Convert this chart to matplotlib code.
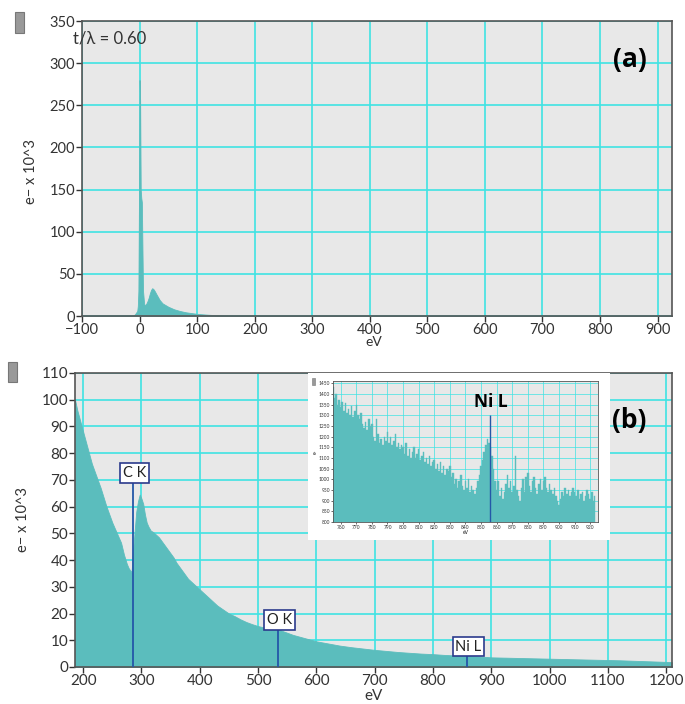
import numpy as np
import matplotlib
matplotlib.use("Agg")
import matplotlib.pyplot as plt
from matplotlib.patches import Rectangle

plt.rcParams['font.family'] = ['Lato', 'DejaVu Sans']

# ---- panel (a): low-loss spectrum ----
low_ev = [-100, -12, -8, -4, -3, -2, -1, 0, 1, 2, 3, 4, 5, 6, 8, 10, 12, 14, 16, 18, 20, 22, 24,
          26, 30, 35, 40, 45, 50, 60, 70, 80, 90, 100, 110, 120, 130, 140, 150, 160, 170, 925]
low_cnt = [0, 0, 2, 6, 12, 30, 140, 280, 256, 150, 140, 135, 80, 30, 14, 13, 15, 18, 22, 27, 31, 33, 32,
           30, 25, 19, 15, 13, 11, 8, 6, 4.5, 3.5, 2.6, 2, 1.5, 1.1, 0.8, 0.5, 0.3, 0, 0]

# ---- panel (b): core-loss spectrum ----
core_ev = [186, 190, 195, 200, 205, 210, 215, 220, 225, 230, 235, 240, 245, 250, 255, 260, 265,
           270, 275, 278, 281, 283, 285, 288, 291, 294, 297, 300, 303, 306, 309, 312, 316, 320,
           325, 330, 335, 340, 345, 350, 355, 360, 365, 370, 375, 380, 390, 400, 410, 420, 430,
           440, 450, 460, 470, 480, 490, 500, 510, 520, 530, 535, 540, 550, 560, 570, 580, 590,
           600, 620, 640, 660, 680, 700, 720, 740, 760, 780, 800, 820, 840, 860, 880, 900, 920,
           940, 960, 980, 1000, 1020, 1040, 1060, 1080, 1100, 1120, 1140, 1160, 1180, 1200, 1210]
core_cnt = [100, 96, 92, 88, 84, 80, 76, 73, 70, 67, 63.5, 60, 57, 54, 51.5, 49, 46.5,
            42, 38.5, 37, 36, 35.5, 42, 50, 58, 62, 64.5, 63, 61, 57, 54, 52.5, 51, 50.5,
            49.5, 48.5, 47, 45.5, 44, 42.5, 41, 39, 37.5, 36, 34.5, 33, 31, 29, 27, 25, 23,
            21.5, 20, 19, 17.8, 16.8, 16, 15.3, 14.8, 14.3, 14, 14.2, 13.6, 12.8, 12, 11.4, 10.8, 10.2,
            9.6, 8.8, 8, 7.4, 6.9, 6.4, 6, 5.6, 5.3, 5, 4.8, 4.5, 4.3, 4.1, 3.9, 3.6, 3.5,
            3.4, 3.3, 3.2, 3.1, 3.0, 2.9, 2.8, 2.7, 2.6, 2.5, 2.35, 2.2, 2.05, 1.9, 1.8]

edge_names = ['C K', 'O K', 'Ni L']
edge_ev = [285, 534, 858]
edge_top = [70, 15, 4.9]

# ---- inset: Ni L edge region (1 eV channels) ----
inset_ev = list(range(755, 924))
inset_cnt = [1430, 1380, 1400, 1350, 1370,
             1340, 1360, 1320, 1355, 1310, 1330, 1300, 1345, 1290, 1320,
             1350, 1300, 1280, 1310, 1260, 1240, 1270, 1230, 1280, 1250,
             1260, 1200, 1180, 1280, 1210, 1170, 1190, 1160, 1200, 1180,
             1220, 1170, 1200, 1160, 1180, 1210, 1150, 1170, 1140, 1160,
             1150, 1120, 1170, 1110, 1140, 1100, 1130, 1150, 1100, 1120,
             1140, 1090, 1110, 1130, 1080, 1100, 1070, 1110, 1060, 1080,
             1090, 1050, 1070, 1040, 1080, 1030, 1060, 1020, 1050, 1040,
             1060, 1010, 1030, 980, 1000, 960, 990, 1020, 970, 950,
             990, 960, 1000, 940, 970, 950, 930, 960, 990, 1020,
             1060, 1090, 1130, 1160, 1190, 1170, 1150, 1110, 1050, 990,
             950, 990, 920, 960, 910, 940, 980, 1020, 960, 990,
             940, 970, 1110, 950, 920, 900, 960, 1000, 940, 1010,
             1030, 970, 940, 990, 1010, 960, 930, 980, 1000, 950,
             990, 1010, 960, 940, 980, 950, 930, 960, 920, 900,
             880, 910, 940, 920, 960, 930, 950, 920, 940, 960,
             940, 920, 950, 910, 930, 940, 900, 920, 950, 930,
             910, 940, 900, 920]

TEAL = '#5BBDBD'
GRID = '#3FE3E3'
BG = '#E8E8E8'
LINE = '#2457A8'


def style(ax, fs):
    ax.set_facecolor(BG)
    ax.grid(True, color=GRID, lw=1.2)
    ax.set_axisbelow(True)
    for s in ax.spines.values():
        s.set_color('#555555')
        s.set_linewidth(1.2)
    ax.tick_params(labelsize=fs, colors='#333333', length=4, width=1, pad=1)


fig = plt.figure(figsize=(6.85, 7.04), dpi=100)

# panel (a)
ax1 = fig.add_axes([0.1197, 0.5511, 0.8613, 0.419])
style(ax1, 10.5)
ax1.fill_between(low_ev, low_cnt, 0, color=TEAL, lw=0.6, edgecolor=TEAL)
ax1.set_xlim(-100, 925)
ax1.set_ylim(0, 350)
ax1.set_xticks(np.arange(-100, 901, 100))
ax1.set_yticks(np.arange(0, 351, 50))
ax1.text(0.957, 0.87, '(a)', transform=ax1.transAxes, fontsize=19, fontweight='bold',
         ha='right', va='center', family=['Open Sans', 'DejaVu Sans'])
fig.text(0.106, 0.945, 't/\u03bb = 0.60', fontsize=12, color='#333333', va='center')
fig.text(0.545, 0.514, 'eV', fontsize=10, ha='center', va='center', color='#333333')
fig.text(0.045, 0.757, 'e\u2212 x 10^3', fontsize=10.5, rotation=90, ha='center', va='center',
         color='#333333')
fig.patches.append(Rectangle((15 / 685, 1 - 33 / 704), 9 / 685, 21 / 704, transform=fig.transFigure,
                             facecolor='#999999', edgecolor='#777777', lw=0.8))

# panel (b)
ax2 = fig.add_axes([0.1095, 0.0526, 0.8715, 0.4176])
style(ax2, 11)
ax2.fill_between(core_ev, core_cnt, 0, color=TEAL, lw=0.6, edgecolor=TEAL)
ax2.set_xlim(186, 1210)
ax2.set_ylim(0, 110)
ax2.set_xticks(np.arange(200, 1201, 100))
ax2.set_yticks(np.arange(0, 111, 10))
for name, e, top in zip(edge_names, edge_ev, edge_top):
    ax2.vlines(e, 0, top, color=LINE, lw=1.3, zorder=3)
    ax2.text(e + 3, top, name, fontsize=10.5, ha='center', va='bottom', color='#222222', zorder=4,
             bbox=dict(boxstyle='square,pad=0.18', fc='white', ec='#2B3A8C', lw=1.2))
ax2.text(0.957, 0.84, '(b)', transform=ax2.transAxes, fontsize=19, fontweight='bold',
         ha='right', va='center', family=['Open Sans', 'DejaVu Sans'])
fig.text(0.545, 0.012, 'eV', fontsize=11, ha='center', va='center', color='#333333')
fig.text(0.034, 0.262, 'e\u2212 x 10^3', fontsize=10.5, rotation=90, ha='center', va='center',
         color='#333333')
fig.patches.append(Rectangle((8 / 685, 1 - 382 / 704), 9 / 685, 20 / 704, transform=fig.transFigure,
                             facecolor='#999999', edgecolor='#777777', lw=0.8))

# inset
box = fig.add_axes([0.4496, 0.233, 0.4409, 0.2372])
box.set_facecolor('white')
box.set_xticks([])
box.set_yticks([])
for s in box.spines.values():
    s.set_visible(False)
ax3 = fig.add_axes([0.486, 0.2585, 0.387, 0.2003])
style(ax3, 3.5)
ax3.grid(True, color=GRID, lw=0.5)
for s in ax3.spines.values():
    s.set_linewidth(0.6)
ax3.tick_params(length=1.5, width=0.5, pad=0.5)
ax3.fill_between(inset_ev, inset_cnt, 800, step='mid', color=TEAL, lw=0.3, edgecolor=TEAL)
ax3.set_xlim(755, 925)
ax3.set_ylim(800, 1460)
ax3.set_xticks(np.arange(760, 921, 10))
ax3.set_yticks(np.arange(800, 1451, 50))
ax3.vlines(856, 800, 1300, color=LINE, lw=1.0, zorder=3)
ax3.text(856, 1320, 'Ni L', fontsize=12.5, fontweight='bold', ha='center', va='bottom',
         family=['Open Sans', 'DejaVu Sans'])
ax3.set_xlabel('eV', fontsize=3.5, labelpad=0.5)
ax3.set_ylabel('e-', fontsize=3.5, labelpad=1)
fig.patches.append(Rectangle((312 / 685, 1 - 385 / 704), 3 / 685, 7 / 704, transform=fig.transFigure,
                             facecolor='#999999', edgecolor='#777777', lw=0.4))

fig.savefig('out.png', dpi=100)
